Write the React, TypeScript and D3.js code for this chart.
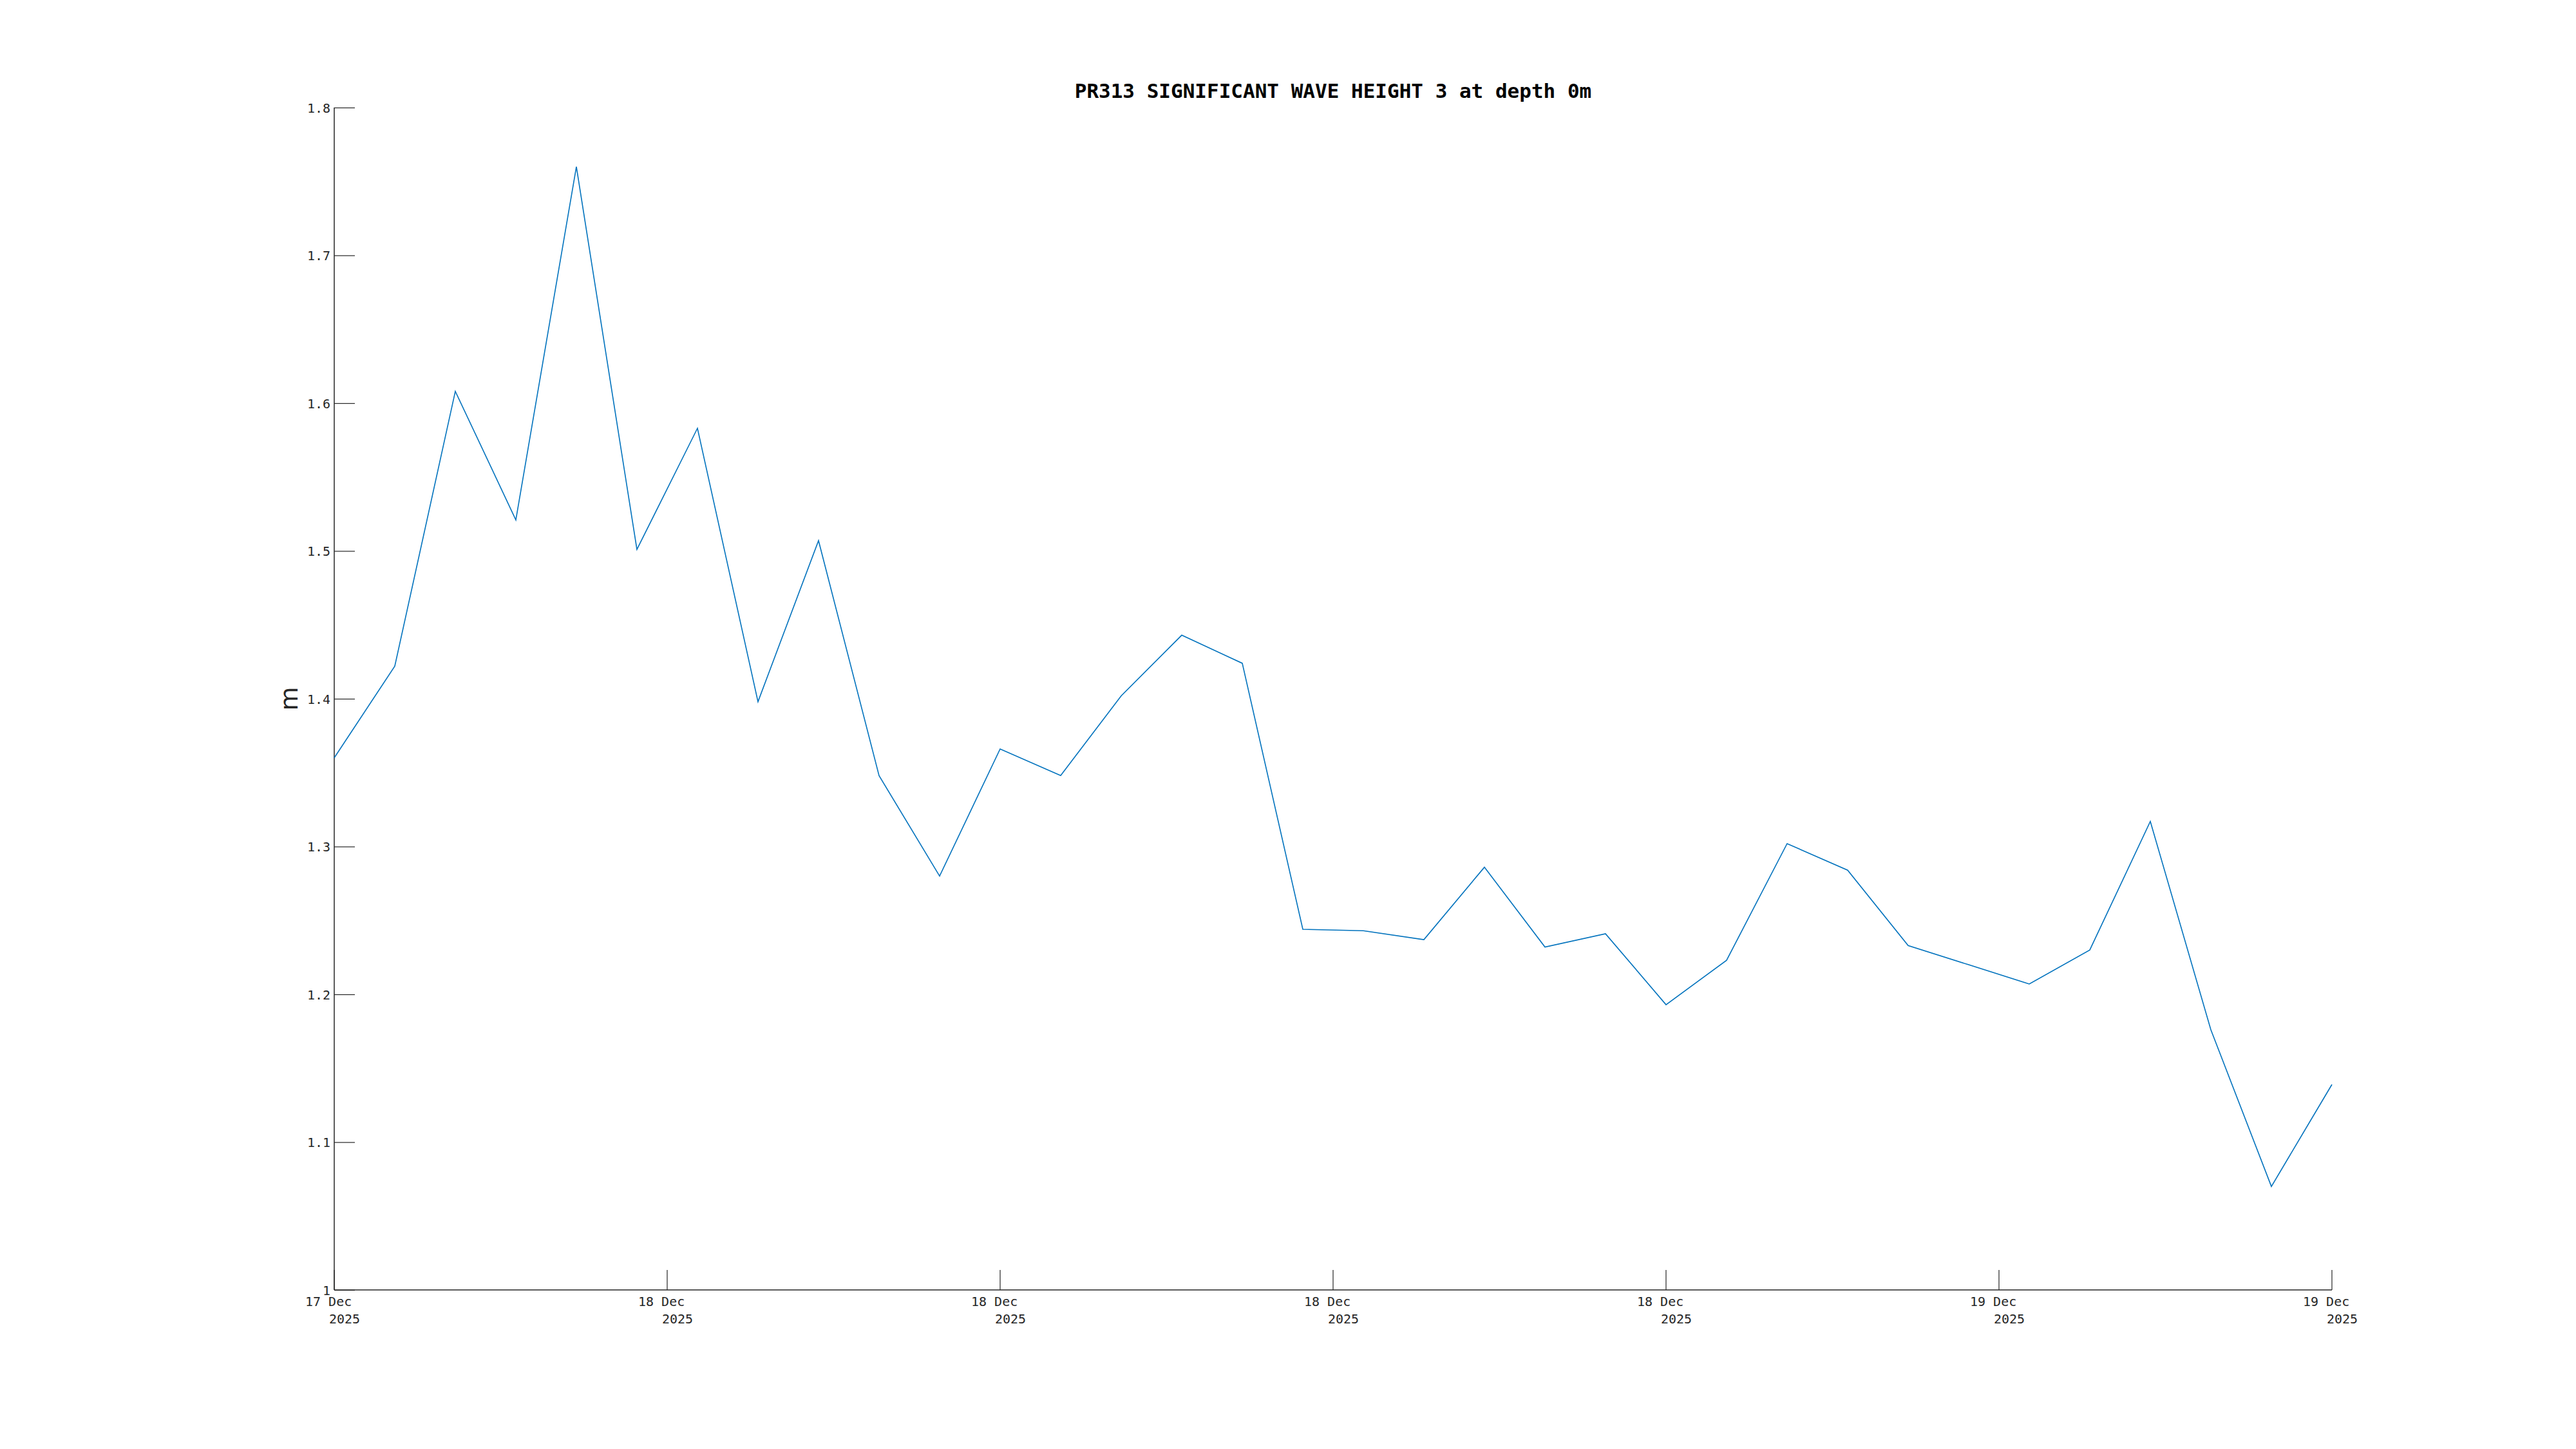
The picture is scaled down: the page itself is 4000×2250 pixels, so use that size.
import * as d3 from 'd3';
import React, { useEffect, useRef } from 'react';

// hourly samples, UTC
const times = [
  '2025-12-17T21:00Z', '2025-12-17T22:00Z', '2025-12-17T23:00Z', '2025-12-18T00:00Z',
  '2025-12-18T01:00Z', '2025-12-18T02:00Z', '2025-12-18T03:00Z', '2025-12-18T04:00Z',
  '2025-12-18T05:00Z', '2025-12-18T06:00Z', '2025-12-18T07:00Z', '2025-12-18T08:00Z',
  '2025-12-18T09:00Z', '2025-12-18T10:00Z', '2025-12-18T11:00Z', '2025-12-18T12:00Z',
  '2025-12-18T13:00Z', '2025-12-18T14:00Z', '2025-12-18T15:00Z', '2025-12-18T16:00Z',
  '2025-12-18T17:00Z', '2025-12-18T18:00Z', '2025-12-18T19:00Z', '2025-12-18T20:00Z',
  '2025-12-18T21:00Z', '2025-12-18T22:00Z', '2025-12-18T23:00Z', '2025-12-19T00:00Z',
  '2025-12-19T01:00Z', '2025-12-19T02:00Z', '2025-12-19T03:00Z', '2025-12-19T04:00Z',
  '2025-12-19T05:00Z', '2025-12-19T06:00Z',
];

const waveHeight = [
  1.36, 1.422, 1.608, 1.521, 1.76, 1.501, 1.583, 1.398,
  1.507, 1.348, 1.28, 1.366, 1.348, 1.402, 1.443, 1.424,
  1.244, 1.243, 1.237, 1.286, 1.232, 1.241, 1.193, 1.223,
  1.302, 1.284, 1.233, 1.22, 1.207, 1.23, 1.317, 1.176,
  1.07, 1.139,
];

const yTicks = [1, 1.1, 1.2, 1.3, 1.4, 1.5, 1.6, 1.7, 1.8];
const xTickLabels = ['17 Dec', '18 Dec', '18 Dec', '18 Dec', '18 Dec', '19 Dec', '19 Dec'];
const xTickYears = ['2025', '2025', '2025', '2025', '2025', '2025', '2025'];

const title = 'PR313 SIGNIFICANT WAVE HEIGHT 3 at depth 0m';
const yLabel = 'm';

const width = 4000;
const height = 2250;
const left = 519;
const right = 3621;
const top = 167;
const bottom = 2003;
const axisColor = '#262626';
const mono = '"DejaVu Sans Mono", monospace';

function WaveChart() {
  const node = useRef<SVGSVGElement>(null);

  useEffect(() => {
    const svg = d3.select(node.current);
    svg.selectAll('*').remove();

    const data = times.map((t, i) => ({ t: new Date(t), v: waveHeight[i] }));

    const x = d3
      .scaleUtc()
      .domain(d3.extent(data, (d) => d.t) as [Date, Date])
      .range([left, right]);
    const y = d3.scaleLinear().domain([1, 1.8]).range([bottom, top]);

    const [t0, t1] = x.domain().map((d) => d.getTime());
    const xTicks = d3.range(xTickLabels.length).map(
      (i) => new Date(t0 + (i * (t1 - t0)) / (xTickLabels.length - 1)),
    );

    // y axis
    const yAxis = d3
      .axisLeft(y)
      .tickValues(yTicks)
      .tickSize(-32)
      .tickPadding(6)
      .tickFormat((d: any) => String(+d.toFixed(1)));
    const gy = svg.append('g').attr('transform', `translate(${left},0)`).call(yAxis);
    gy.select('.domain').attr('stroke', axisColor).attr('stroke-width', 1.5).attr('d', `M0,${top}V${bottom}`);
    gy.selectAll('.tick line').attr('stroke', axisColor).attr('stroke-width', 1.2);
    gy.selectAll('.tick text')
      .attr('fill', axisColor)
      .attr('font-family', mono)
      .attr('font-size', 20)
      .attr('dy', '0.35em');

    // x axis
    const gx = svg.append('g');
    gx.append('line')
      .attr('x1', left)
      .attr('x2', right)
      .attr('y1', bottom)
      .attr('y2', bottom)
      .attr('stroke', axisColor)
      .attr('stroke-width', 1.5);
    const xt = gx
      .selectAll('g.xtick')
      .data(xTicks)
      .enter()
      .append('g')
      .attr('class', 'xtick')
      .attr('transform', (d) => `translate(${x(d)},${bottom})`);
    xt.append('line').attr('y1', 0).attr('y2', -31).attr('stroke', axisColor).attr('stroke-width', 1.2);
    xt.append('text')
      .attr('x', -45)
      .attr('y', 25)
      .attr('font-family', mono)
      .attr('font-size', 20)
      .attr('fill', axisColor)
      .text((d, i) => xTickLabels[i]);
    xt.append('text')
      .attr('x', -8)
      .attr('y', 52)
      .attr('font-family', mono)
      .attr('font-size', 20)
      .attr('fill', axisColor)
      .text((d, i) => xTickYears[i]);

    // data line
    const line = d3
      .line<{ t: Date; v: number }>()
      .x((d) => x(d.t))
      .y((d) => y(d.v));
    svg
      .append('path')
      .datum(data)
      .attr('d', line)
      .attr('fill', 'none')
      .attr('stroke', '#0072BD')
      .attr('stroke-width', 1.6);

    // title
    svg
      .append('text')
      .attr('x', (left + right) / 2)
      .attr('y', 152)
      .attr('text-anchor', 'middle')
      .attr('font-family', mono)
      .attr('font-weight', 'bold')
      .attr('font-size', 31)
      .attr('fill', '#000')
      .text(title);

    // y label
    svg
      .append('text')
      .attr('transform', `translate(462,${(top + bottom) / 2}) rotate(-90)`)
      .attr('text-anchor', 'middle')
      .attr('font-family', '"DejaVu Sans", sans-serif')
      .attr('font-size', 38)
      .attr('fill', axisColor)
      .text(yLabel);
  }, []);

  return (
    <svg
      ref={node}
      width={width}
      height={height}
      style={{ position: 'absolute', left: 0, top: 0, background: '#fff' }}
    />
  );
}

export default function App() {
  return <WaveChart />;
}
